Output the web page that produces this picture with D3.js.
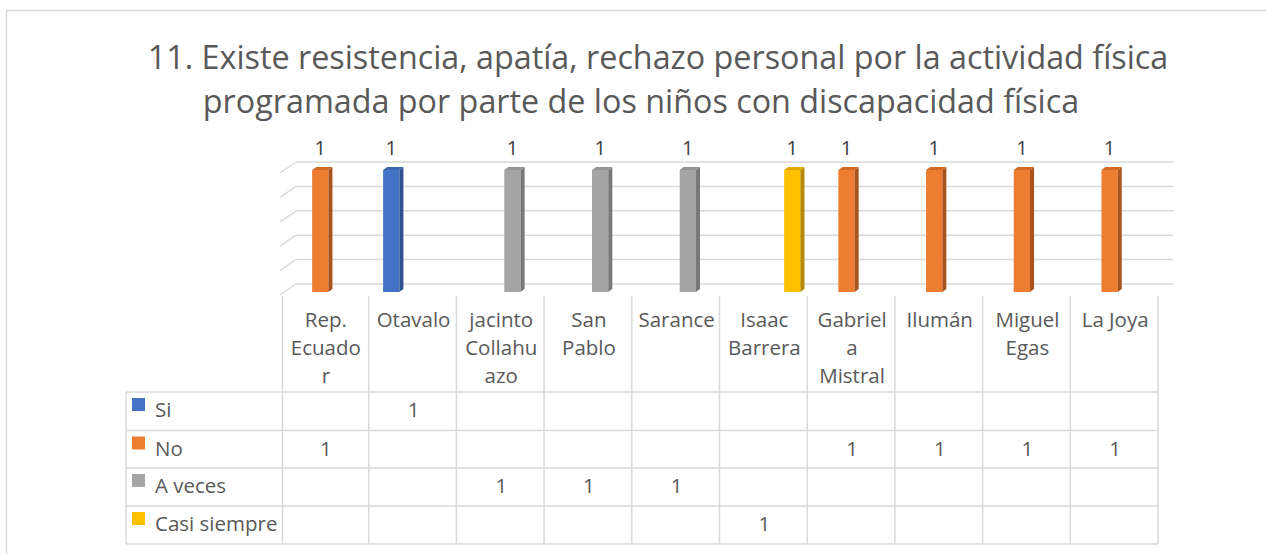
<!DOCTYPE html>
<html>
<head>
<meta charset="utf-8">
<script src="https://cdn.jsdelivr.net/npm/d3@7"></script>
<style>
  html, body { margin: 0; padding: 0; background: #fff; }
  svg { display: block; font-family: "Open Sans", sans-serif; }
</style>
</head>
<body>
<svg id="chart" width="1266" height="554"></svg>
<script>
// chart data
const titleLines = [
  "11. Existe resistencia, apatía, rechazo personal por la actividad física",
  "programada por parte de los niños con discapacidad física"
];
const categories = ["Rep. Ecuador", "Otavalo", "jacinto Collahuazo", "San Pablo", "Sarance",
  "Isaac Barrera", "Gabriela Mistral", "Ilumán", "Miguel Egas", "La Joya"];
// header labels as wrapped in the table
const categoryLines = [["Rep.", "Ecuado", "r"], ["Otavalo"], ["jacinto", "Collahu", "azo"], ["San", "Pablo"],
  ["Sarance"], ["Isaac", "Barrera"], ["Gabriel", "a", "Mistral"], ["Ilumán"], ["Miguel", "Egas"], ["La Joya"]];
const seriesNames = ["Si", "No", "A veces", "Casi siempre"];
const siValues = [null, 1, null, null, null, null, null, null, null, null];
const noValues = [1, null, null, null, null, null, 1, 1, 1, 1];
const aVecesValues = [null, null, 1, 1, 1, null, null, null, null, null];
const casiSiempreValues = [null, null, null, null, null, 1, null, null, null, null];
const gridTicks = [0, 0.2, 0.4, 0.6, 0.8, 1];

const seriesValues = [siValues, noValues, aVecesValues, casiSiempreValues];
const colors = {
  "Si": ["#4472C4", "#2F528F", "#3A64B0"],
  "No": ["#ED7D31", "#A9541F", "#D26A25"],
  "A veces": ["#A5A5A5", "#787878", "#939393"],
  "Casi siempre": ["#FFC000", "#B58800", "#E0A800"]
};

const svg = d3.select("#chart");
const textColor = "#595959";
const lineColor = "#D9D9D9";
const tableFont = 20.5;

// outer chart border (only top & left are in frame)
svg.append("rect")
  .attr("x", 6.5).attr("y", 10.5)
  .attr("width", 1262).attr("height", 560)
  .attr("fill", "none")
  .attr("stroke", lineColor)
  .attr("stroke-width", 1.5);

// title
const titleX = [658, 641];
svg.append("g").selectAll("text")
  .data(titleLines)
  .join("text")
  .attr("x", (d, i) => titleX[i])
  .attr("y", (d, i) => 69 + i * 44)
  .attr("text-anchor", "middle")
  .attr("fill", textColor)
  .attr("font-size", 32.3)
  .text(d => d);

// 3d geometry
const depth = { dx: 15, dy: -11 };
const barDepth = { f0: 0.27, f1: 0.54 };

const x = d3.scaleBand()
  .domain(categories)
  .range([281, 1158]);

const inner = d3.scaleBand()
  .domain(seriesNames)
  .range([-33.5, 33.5]);

const y = d3.scaleLinear()
  .domain([0, 1])
  .range([295, 173]);

// back wall gridlines
const grid = svg.append("g")
  .attr("stroke", lineColor)
  .attr("stroke-width", 1.5)
  .attr("fill", "none");

grid.selectAll("line.back")
  .data(gridTicks)
  .join("line")
  .attr("class", "back")
  .attr("x1", x.range()[0] + depth.dx)
  .attr("x2", x.range()[1] + depth.dx)
  .attr("y1", d => y(d) + depth.dy)
  .attr("y2", d => y(d) + depth.dy);

grid.selectAll("line.side")
  .data(gridTicks)
  .join("line")
  .attr("class", "side")
  .attr("x1", x.range()[0] - 1)
  .attr("x2", x.range()[0] + depth.dx)
  .attr("y1", d => y(d))
  .attr("y2", d => y(d) + depth.dy);

// bars
const bars = [];
seriesNames.forEach((s, si) => {
  categories.forEach((c, ci) => {
    const v = seriesValues[si][ci];
    if (v != null) bars.push({ series: s, category: c, value: v });
  });
});

const sx0 = barDepth.f0 * depth.dx, sy0 = barDepth.f0 * depth.dy;
const sdx = (barDepth.f1 - barDepth.f0) * depth.dx, sdy = (barDepth.f1 - barDepth.f0) * depth.dy;
const bw = inner.bandwidth() - 0.5;

const barG = svg.append("g").selectAll("g")
  .data(bars)
  .join("g")
  .attr("transform", d => {
    const left = x(d.category) + x.bandwidth() / 2 + inner(d.series) + sx0;
    return `translate(${left},${sy0})`;
  });

// front face
barG.append("rect")
  .attr("x", 0)
  .attr("y", d => y(d.value))
  .attr("width", bw)
  .attr("height", d => y(0) - y(d.value))
  .attr("fill", d => colors[d.series][0]);

// side face
barG.append("path")
  .attr("d", d => {
    const t = y(d.value), b = y(0);
    return `M${bw},${t} L${bw + sdx},${t + sdy} L${bw + sdx},${b + sdy} L${bw},${b} Z`;
  })
  .attr("fill", d => colors[d.series][1]);

// top face
barG.append("path")
  .attr("d", d => {
    const t = y(d.value);
    return `M0,${t} L${sdx},${t + sdy} L${bw + sdx},${t + sdy} L${bw},${t} Z`;
  })
  .attr("fill", d => colors[d.series][2]);

// data labels
barG.append("text")
  .attr("x", bw / 2)
  .attr("y", d => y(d.value) - 15)
  .attr("text-anchor", "middle")
  .attr("fill", "#404040")
  .attr("font-size", 20)
  .text(d => d.value);

// data table
const table = svg.append("g");
const tableLeft = 126, tableRight = 1158;
const headerTop = 296;
const rowTops = [392, 430.5, 468, 506, 544];

const tLines = table.append("g")
  .attr("stroke", lineColor)
  .attr("stroke-width", 1.5);

tLines.selectAll("line.h")
  .data(rowTops)
  .join("line")
  .attr("class", "h")
  .attr("x1", tableLeft).attr("x2", tableRight)
  .attr("y1", d => d).attr("y2", d => d);

const colEdges = categories.map(c => x(c)).concat([x.range()[1]]);
tLines.selectAll("line.v")
  .data(colEdges)
  .join("line")
  .attr("class", "v")
  .attr("x1", (d, i) => i === 0 ? d + 1.5 : d)
  .attr("x2", (d, i) => i === 0 ? d + 1.5 : d)
  .attr("y1", headerTop)
  .attr("y2", rowTops[rowTops.length - 1]);

tLines.append("line")
  .attr("x1", tableLeft).attr("x2", tableLeft)
  .attr("y1", rowTops[0]).attr("y2", rowTops[rowTops.length - 1]);

// header labels
const header = table.append("g")
  .attr("fill", textColor)
  .attr("font-size", tableFont)
  .attr("text-anchor", "middle");

categories.forEach((c, ci) => {
  header.append("text")
    .selectAll("tspan")
    .data(categoryLines[ci])
    .join("tspan")
    .attr("x", x(c) + x.bandwidth() / 2 + 1)
    .attr("y", (d, i) => 327 + i * 28)
    .text(d => d);
});

// legend rows
const rows = table.append("g").selectAll("g")
  .data(seriesNames)
  .join("g")
  .attr("transform", (d, i) => `translate(0,${rowTops[i]})`);

rows.append("rect")
  .attr("x", 132)
  .attr("y", 6)
  .attr("width", 13)
  .attr("height", 13)
  .attr("fill", d => colors[d][0]);

rows.append("text")
  .attr("x", 155)
  .attr("y", 25)
  .attr("fill", textColor)
  .attr("font-size", tableFont)
  .text(d => d);

rows.each(function(s, si) {
  d3.select(this).selectAll("text.val")
    .data(categories.map((c, ci) => ({ c, v: seriesValues[si][ci] })).filter(d => d.v != null))
    .join("text")
    .attr("class", "val")
    .attr("x", d => x(d.c) + x.bandwidth() / 2 + 1)
    .attr("y", 25)
    .attr("text-anchor", "middle")
    .attr("fill", textColor)
    .attr("font-size", tableFont)
    .text(d => d.v);
});
</script>
</body>
</html>
